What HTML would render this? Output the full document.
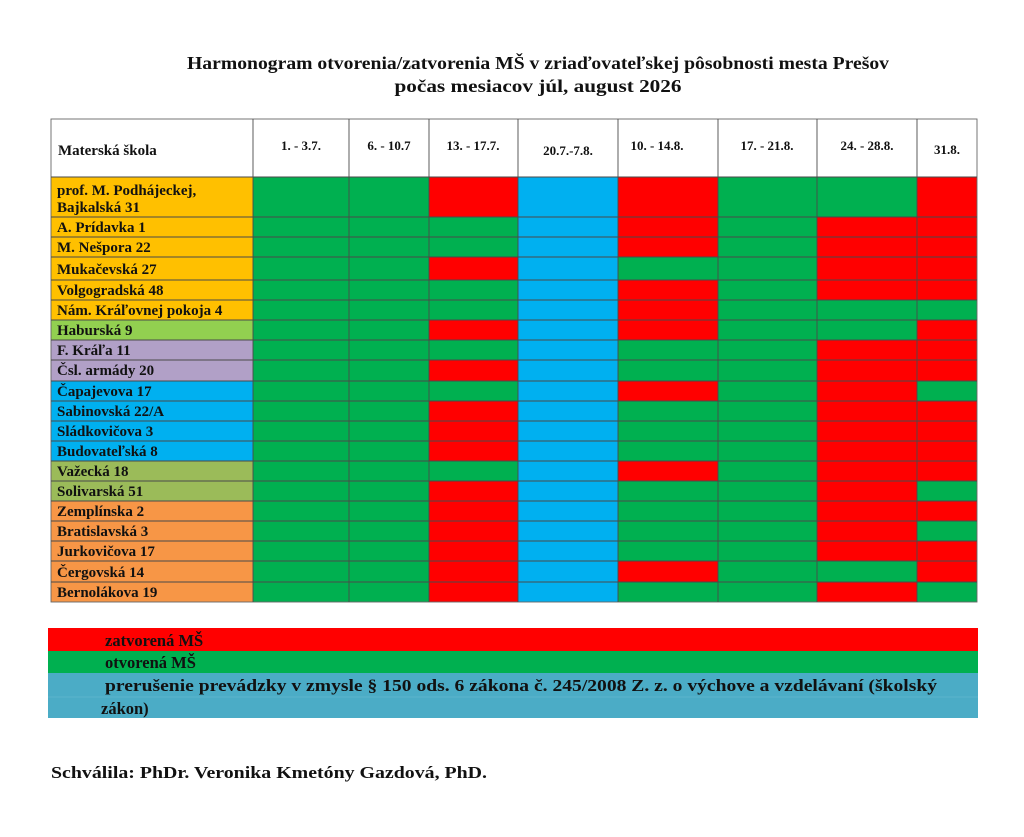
<!DOCTYPE html>
<html><head><meta charset="utf-8"><style>
html,body{margin:0;padding:0;background:#fff;width:1024px;height:837px;overflow:hidden}
svg{display:block}
text{font-family:"Liberation Serif","Times New Roman",serif;font-weight:bold;fill:#111}
</style></head><body>
<svg width="1024" height="837" viewBox="0 0 1024 837" xmlns="http://www.w3.org/2000/svg">
<text x="538" y="69" font-size="17.5" text-anchor="middle" textLength="702" lengthAdjust="spacingAndGlyphs">Harmonogram otvorenia/zatvorenia MŠ v zriaďovateľskej pôsobnosti mesta Prešov</text>
<text x="538" y="92" font-size="17.5" text-anchor="middle" textLength="287" lengthAdjust="spacingAndGlyphs">počas mesiacov júl, august 2026</text>

<rect x="51" y="119" width="926" height="58" fill="#fff"/>

<!-- name column backgrounds -->
<rect x="51" y="177" width="202" height="143" fill="#FFC000"/>
<rect x="51" y="320" width="202" height="20" fill="#92D050"/>
<rect x="51" y="340" width="202" height="41" fill="#B1A0C7"/>
<rect x="51" y="381" width="202" height="80" fill="#00B0F0"/>
<rect x="51" y="461" width="202" height="40" fill="#9BBB59"/>
<rect x="51" y="501" width="202" height="101" fill="#F79646"/>

<!-- data default green -->
<rect x="253" y="177" width="724" height="425" fill="#00B050"/>
<rect x="518" y="177" width="100" height="425" fill="#00B0F0"/>
<g fill="#FF0000">
<rect x="429" y="177" width="89" height="40"/>
<rect x="429" y="257" width="89" height="23"/>
<rect x="429" y="320" width="89" height="20"/>
<rect x="429" y="360" width="89" height="21"/>
<rect x="429" y="401" width="89" height="60"/>
<rect x="429" y="481" width="89" height="121"/>
<rect x="618" y="177" width="100" height="80"/>
<rect x="618" y="280" width="100" height="60"/>
<rect x="618" y="381" width="100" height="20"/>
<rect x="618" y="461" width="100" height="20"/>
<rect x="618" y="561" width="100" height="21"/>
<rect x="817" y="217" width="100" height="83"/>
<rect x="817" y="340" width="100" height="221"/>
<rect x="817" y="582" width="100" height="20"/>
<rect x="917" y="177" width="60" height="123"/>
<rect x="917" y="320" width="60" height="61"/>
<rect x="917" y="401" width="60" height="80"/>
<rect x="917" y="501" width="60" height="20"/>
<rect x="917" y="541" width="60" height="41"/>
</g>

<!-- grid -->
<g stroke="#4a4a4a" stroke-width="0.9" fill="none">
<rect x="51" y="119" width="926" height="483" stroke="#666"/>
<line x1="51" y1="177" x2="977" y2="177"/>
<line x1="51" y1="217" x2="977" y2="217"/>
<line x1="51" y1="237" x2="977" y2="237"/>
<line x1="51" y1="257" x2="977" y2="257"/>
<line x1="51" y1="280" x2="977" y2="280"/>
<line x1="51" y1="300" x2="977" y2="300"/>
<line x1="51" y1="320" x2="977" y2="320"/>
<line x1="51" y1="340" x2="977" y2="340"/>
<line x1="51" y1="360" x2="977" y2="360"/>
<line x1="51" y1="381" x2="977" y2="381"/>
<line x1="51" y1="401" x2="977" y2="401"/>
<line x1="51" y1="421" x2="977" y2="421"/>
<line x1="51" y1="441" x2="977" y2="441"/>
<line x1="51" y1="461" x2="977" y2="461"/>
<line x1="51" y1="481" x2="977" y2="481"/>
<line x1="51" y1="501" x2="977" y2="501"/>
<line x1="51" y1="521" x2="977" y2="521"/>
<line x1="51" y1="541" x2="977" y2="541"/>
<line x1="51" y1="561" x2="977" y2="561"/>
<line x1="51" y1="582" x2="977" y2="582"/>
<line x1="253" y1="119" x2="253" y2="602"/>
<line x1="349" y1="119" x2="349" y2="602"/>
<line x1="429" y1="119" x2="429" y2="602"/>
<line x1="518" y1="119" x2="518" y2="602"/>
<line x1="618" y1="119" x2="618" y2="602"/>
<line x1="718" y1="119" x2="718" y2="602"/>
<line x1="817" y1="119" x2="817" y2="602"/>
<line x1="917" y1="119" x2="917" y2="602"/>
</g>

<text x="58" y="155" font-size="15">Materská škola</text>
<g font-size="13" text-anchor="middle">
<text x="301" y="150">1. - 3.7.</text>
<text x="389" y="150">6. - 10.7</text>
<text x="473" y="150">13. - 17.7.</text>
<text x="568" y="155">20.7.-7.8.</text>
<text x="657" y="150">10. - 14.8.</text>
<text x="767" y="150">17. - 21.8.</text>
<text x="867" y="150">24. - 28.8.</text>
<text x="947" y="154">31.8.</text>
</g>

<g font-size="15">
<text x="57" y="195">prof. M. Podhájeckej,</text>
<text x="57" y="212">Bajkalská 31</text>
<text x="57" y="232">A. Prídavka 1</text>
<text x="57" y="252">M. Nešpora 22</text>
<text x="57" y="274">Mukačevská 27</text>
<text x="57" y="295">Volgogradská 48</text>
<text x="57" y="315">Nám. Kráľovnej pokoja 4</text>
<text x="57" y="335">Haburská 9</text>
<text x="57" y="355">F. Kráľa 11</text>
<text x="57" y="375">Čsl. armády 20</text>
<text x="57" y="396">Čapajevova 17</text>
<text x="57" y="416">Sabinovská 22/A</text>
<text x="57" y="436">Sládkovičova 3</text>
<text x="57" y="456">Budovateľská 8</text>
<text x="57" y="476">Važecká 18</text>
<text x="57" y="496">Solivarská 51</text>
<text x="57" y="516">Zemplínska 2</text>
<text x="57" y="536">Bratislavská 3</text>
<text x="57" y="556">Jurkovičova 17</text>
<text x="57" y="577">Čergovská 14</text>
<text x="57" y="597">Bernolákova 19</text>
</g>

<!-- legend -->
<rect x="48" y="628" width="930" height="23" fill="#FF0000"/>
<rect x="48" y="651" width="930" height="22" fill="#00B050"/>
<rect x="48" y="673" width="930" height="45" fill="#4BACC6"/>
<line x1="48" y1="697" x2="978" y2="697" stroke="#5bb5cc" stroke-width="1"/>
<g font-size="16.5">
<text x="105" y="646">zatvorená MŠ</text>
<text x="105" y="668">otvorená MŠ</text>
<text x="105" y="691" textLength="832" lengthAdjust="spacingAndGlyphs">prerušenie prevádzky v zmysle § 150 ods. 6 zákona č. 245/2008 Z. z. o výchove a vzdelávaní (školský</text>
<text x="101" y="714">zákon)</text>
</g>
<text x="51" y="778" font-size="16.5" textLength="436" lengthAdjust="spacingAndGlyphs">Schválila: PhDr. Veronika Kmetóny Gazdová, PhD.</text>
</svg>
</body></html>
